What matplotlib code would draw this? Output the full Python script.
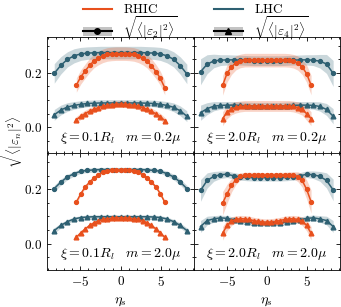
import numpy as np
import matplotlib
matplotlib.use('Agg')
import matplotlib.pyplot as plt
from matplotlib.lines import Line2D
from matplotlib.patches import Patch
from matplotlib.ticker import MultipleLocator, FuncFormatter

# eta grids (21 points each)
eta_rhic = np.linspace(-5.5, 5.5, 21)
eta_lhc = np.linspace(-8.25, 8.25, 21)

# --- xi = 0.1 R_l, m = 0.2 mu (top left)
tl_lhc_e2 = [0.198, 0.228, 0.250, 0.263, 0.270, 0.273, 0.274, 0.275, 0.275, 0.275, 0.275,
             0.275, 0.275, 0.275, 0.274, 0.273, 0.270, 0.263, 0.250, 0.227, 0.196]
tl_lhc_e2_err = [0.036, 0.032, 0.028, 0.026, 0.024, 0.023, 0.023, 0.023, 0.023, 0.023, 0.023,
                 0.023, 0.023, 0.023, 0.023, 0.023, 0.024, 0.026, 0.028, 0.032, 0.036]
tl_rhic_e2 = [0.155, 0.185, 0.207, 0.228, 0.244, 0.255, 0.263, 0.268, 0.270, 0.271, 0.271,
              0.271, 0.270, 0.268, 0.263, 0.255, 0.243, 0.226, 0.205, 0.180, 0.145]
tl_rhic_e2_err = [0.026, 0.026, 0.026, 0.026, 0.025, 0.025, 0.025, 0.025, 0.025, 0.025, 0.025,
                  0.025, 0.025, 0.025, 0.025, 0.025, 0.025, 0.026, 0.026, 0.026, 0.026]
tl_lhc_e4 = [0.045, 0.063, 0.074, 0.080, 0.084, 0.087, 0.088, 0.089, 0.089, 0.089, 0.089,
             0.089, 0.089, 0.089, 0.088, 0.087, 0.084, 0.080, 0.073, 0.060, 0.040]
tl_lhc_e4_err = [0.020, 0.018, 0.016, 0.014, 0.013, 0.012, 0.012, 0.012, 0.012, 0.012, 0.012,
                 0.012, 0.012, 0.012, 0.012, 0.012, 0.013, 0.014, 0.016, 0.018, 0.020]
tl_rhic_e4 = [0.027, 0.040, 0.050, 0.059, 0.066, 0.072, 0.077, 0.080, 0.083, 0.084, 0.085,
              0.084, 0.083, 0.080, 0.077, 0.072, 0.066, 0.058, 0.049, 0.038, 0.024]
tl_rhic_e4_err = [0.012, 0.012, 0.012, 0.012, 0.012, 0.012, 0.012, 0.012, 0.012, 0.012, 0.012,
                  0.012, 0.012, 0.012, 0.012, 0.012, 0.012, 0.012, 0.012, 0.012, 0.012]

# --- xi = 2.0 R_l, m = 0.2 mu (top right)
tr_lhc_e2 = [0.204, 0.232, 0.244, 0.247, 0.248, 0.248, 0.247, 0.246, 0.245, 0.245, 0.245,
             0.245, 0.245, 0.246, 0.247, 0.248, 0.248, 0.247, 0.243, 0.233, 0.198]
tr_lhc_e2_err = [0.048, 0.035, 0.025, 0.020, 0.019, 0.018, 0.018, 0.018, 0.018, 0.018, 0.018,
                 0.018, 0.018, 0.018, 0.018, 0.018, 0.019, 0.020, 0.025, 0.035, 0.048]
tr_rhic_e2 = [0.154, 0.198, 0.222, 0.237, 0.244, 0.247, 0.247, 0.247, 0.247, 0.247, 0.247,
              0.247, 0.247, 0.247, 0.247, 0.246, 0.243, 0.236, 0.222, 0.197, 0.155]
tr_rhic_e2_err = [0.036, 0.032, 0.028, 0.026, 0.025, 0.025, 0.025, 0.025, 0.025, 0.025, 0.025,
                  0.025, 0.025, 0.025, 0.025, 0.025, 0.025, 0.026, 0.028, 0.032, 0.036]
tr_lhc_e4 = [0.053, 0.068, 0.077, 0.080, 0.081, 0.081, 0.080, 0.079, 0.078, 0.078, 0.078,
             0.078, 0.078, 0.079, 0.080, 0.081, 0.081, 0.080, 0.076, 0.065, 0.040]
tr_lhc_e4_err = [0.028, 0.022, 0.017, 0.014, 0.013, 0.013, 0.013, 0.013, 0.013, 0.013, 0.013,
                 0.013, 0.013, 0.013, 0.013, 0.013, 0.013, 0.014, 0.017, 0.022, 0.028]
tr_rhic_e4 = [0.031, 0.055, 0.067, 0.073, 0.076, 0.078, 0.078, 0.078, 0.078, 0.078, 0.078,
              0.078, 0.078, 0.078, 0.078, 0.078, 0.076, 0.072, 0.066, 0.049, 0.031]
tr_rhic_e4_err = [0.026, 0.024, 0.022, 0.021, 0.020, 0.020, 0.020, 0.020, 0.020, 0.020, 0.020,
                  0.020, 0.020, 0.020, 0.020, 0.020, 0.020, 0.021, 0.022, 0.024, 0.026]

# --- xi = 0.1 R_l, m = 2.0 mu (bottom left)
bl_lhc_e2 = [0.203, 0.227, 0.246, 0.258, 0.267, 0.270, 0.272, 0.273, 0.273, 0.273, 0.273,
             0.273, 0.273, 0.273, 0.272, 0.270, 0.267, 0.258, 0.246, 0.227, 0.203]
bl_lhc_e2_err = [0.012, 0.011, 0.010, 0.009, 0.008, 0.008, 0.008, 0.008, 0.008, 0.008, 0.008,
                 0.008, 0.008, 0.008, 0.008, 0.008, 0.008, 0.009, 0.010, 0.011, 0.012]
bl_rhic_e2 = [0.153, 0.184, 0.209, 0.227, 0.242, 0.254, 0.264, 0.269, 0.271, 0.272, 0.272,
              0.272, 0.271, 0.269, 0.264, 0.254, 0.242, 0.227, 0.209, 0.184, 0.153]
bl_rhic_e2_err = [0.007, 0.007, 0.006, 0.006, 0.006, 0.006, 0.006, 0.006, 0.006, 0.006, 0.006,
                  0.006, 0.006, 0.006, 0.006, 0.006, 0.006, 0.006, 0.006, 0.007, 0.007]
bl_lhc_e4 = [0.048, 0.067, 0.081, 0.091, 0.096, 0.098, 0.099, 0.099, 0.099, 0.099, 0.099,
             0.099, 0.099, 0.099, 0.099, 0.098, 0.096, 0.091, 0.081, 0.067, 0.048]
bl_lhc_e4_err = [0.010, 0.009, 0.008, 0.007, 0.007, 0.007, 0.007, 0.007, 0.007, 0.007, 0.007,
                 0.007, 0.007, 0.007, 0.007, 0.007, 0.007, 0.007, 0.008, 0.009, 0.010]
bl_rhic_e4 = [0.023, 0.040, 0.054, 0.067, 0.077, 0.084, 0.089, 0.091, 0.094, 0.095, 0.095,
              0.095, 0.094, 0.091, 0.089, 0.084, 0.077, 0.067, 0.054, 0.040, 0.023]
bl_rhic_e4_err = [0.005, 0.005, 0.005, 0.005, 0.005, 0.005, 0.005, 0.005, 0.005, 0.005, 0.005,
                  0.005, 0.005, 0.005, 0.005, 0.005, 0.005, 0.005, 0.005, 0.005, 0.005]

# --- xi = 2.0 R_l, m = 2.0 mu (bottom right)
br_lhc_e2 = [0.196, 0.233, 0.248, 0.254, 0.256, 0.250, 0.246, 0.244, 0.243, 0.243, 0.243,
             0.243, 0.243, 0.244, 0.246, 0.250, 0.256, 0.254, 0.248, 0.233, 0.198]
br_lhc_e2_err = [0.040, 0.028, 0.018, 0.014, 0.012, 0.012, 0.012, 0.012, 0.012, 0.012, 0.012,
                 0.012, 0.012, 0.012, 0.012, 0.012, 0.012, 0.014, 0.018, 0.028, 0.040]
br_rhic_e2 = [0.149, 0.184, 0.215, 0.236, 0.248, 0.252, 0.253, 0.253, 0.253, 0.252, 0.252,
              0.252, 0.252, 0.253, 0.253, 0.253, 0.252, 0.247, 0.233, 0.200, 0.155]
br_rhic_e2_err = [0.043, 0.035, 0.025, 0.018, 0.013, 0.011, 0.010, 0.010, 0.010, 0.010, 0.010,
                  0.010, 0.010, 0.010, 0.010, 0.011, 0.013, 0.018, 0.025, 0.035, 0.043]
br_lhc_e4 = [0.063, 0.085, 0.091, 0.095, 0.093, 0.088, 0.083, 0.079, 0.076, 0.075, 0.075,
             0.075, 0.076, 0.079, 0.083, 0.088, 0.093, 0.095, 0.091, 0.085, 0.063]
br_lhc_e4_err = [0.022, 0.016, 0.012, 0.010, 0.010, 0.010, 0.010, 0.010, 0.010, 0.010, 0.010,
                 0.010, 0.010, 0.010, 0.010, 0.010, 0.010, 0.010, 0.012, 0.016, 0.022]
br_rhic_e4 = [0.038, 0.067, 0.083, 0.089, 0.092, 0.091, 0.089, 0.085, 0.082, 0.080, 0.079,
              0.080, 0.082, 0.085, 0.089, 0.091, 0.092, 0.089, 0.083, 0.067, 0.038]
br_rhic_e4_err = [0.025, 0.020, 0.016, 0.013, 0.012, 0.012, 0.012, 0.012, 0.012, 0.012, 0.012,
                  0.012, 0.012, 0.012, 0.012, 0.012, 0.012, 0.013, 0.016, 0.020, 0.025]

panel_text = [r'$\xi = 0.1R_l \quad m = 0.2\mu$', r'$\xi = 2.0R_l \quad m = 0.2\mu$',
              r'$\xi = 0.1R_l \quad m = 2.0\mu$', r'$\xi = 2.0R_l \quad m = 2.0\mu$']

c_rhic = '#e8501d'
c_lhc = '#2e6072'

plt.rcParams['mathtext.fontset'] = 'cm'
plt.rcParams['font.family'] = 'serif'
plt.rcParams['font.serif'] = ['DejaVu Serif']
plt.rcParams['font.size'] = 9
plt.rcParams['axes.linewidth'] = 0.6

fig, axes = plt.subplots(2, 2, figsize=(3.41, 3.07), dpi=100, sharex=True, sharey=True)
fig.subplots_adjust(left=0.139, right=0.997, top=0.880, bottom=0.121, hspace=0, wspace=0)

panels = [
    (tl_lhc_e2, tl_lhc_e2_err, tl_rhic_e2, tl_rhic_e2_err, tl_lhc_e4, tl_lhc_e4_err, tl_rhic_e4, tl_rhic_e4_err),
    (tr_lhc_e2, tr_lhc_e2_err, tr_rhic_e2, tr_rhic_e2_err, tr_lhc_e4, tr_lhc_e4_err, tr_rhic_e4, tr_rhic_e4_err),
    (bl_lhc_e2, bl_lhc_e2_err, bl_rhic_e2, bl_rhic_e2_err, bl_lhc_e4, bl_lhc_e4_err, bl_rhic_e4, bl_rhic_e4_err),
    (br_lhc_e2, br_lhc_e2_err, br_rhic_e2, br_rhic_e2_err, br_lhc_e4, br_lhc_e4_err, br_rhic_e4, br_rhic_e4_err),
]


def draw(ax, eta, vals, err, color, marker, ms):
    vals = np.asarray(vals)
    err = np.asarray(err)
    ax.fill_between(eta, vals - err, vals + err, color=color, alpha=0.25, lw=0)
    ax.plot(eta, vals, color=color, lw=1.1, marker=marker, ms=ms)


for ax, data, txt in zip(axes.flat, panels, panel_text):
    le2, le2e, re2, re2e, le4, le4e, re4, re4e = data
    draw(ax, eta_lhc, le2, le2e, c_lhc, 'o', 2.8)
    draw(ax, eta_rhic, re2, re2e, c_rhic, 'o', 2.8)
    draw(ax, eta_lhc, le4, le4e, c_lhc, '^', 3.4)
    draw(ax, eta_rhic, re4, re4e, c_rhic, '^', 3.4)
    ax.text(0.5, 0.135, txt, transform=ax.transAxes, ha='center', va='center', fontsize=10)
    ax.xaxis.set_major_locator(MultipleLocator(5))
    ax.xaxis.set_minor_locator(MultipleLocator(1))
    ax.yaxis.set_major_locator(MultipleLocator(0.2))
    ax.yaxis.set_minor_locator(MultipleLocator(0.05))
    ax.xaxis.set_major_formatter(FuncFormatter(lambda v, p: f'${v:g}$'))
    ax.yaxis.set_major_formatter(FuncFormatter(lambda v, p: f'${v:.1f}$'))
    ax.tick_params(which='both', direction='in', top=True, right=True, width=0.6, labelsize=9.5)
    ax.tick_params(which='major', length=3.2)
    ax.tick_params(which='minor', length=1.6)

axes[0, 0].set_xlim(-9.1, 9.1)
axes[0, 0].set_ylim(-0.097, 0.333)

for ax in axes[1]:
    ax.set_xlabel(r'$\eta_s$', fontsize=10)

fig.text(0.035, 0.545, r'$\sqrt{\langle|\varepsilon_n|^2\rangle}$', rotation=90,
         ha='center', va='center', fontsize=9.5)

# legend: one entry per slot so the two rows sit close together
band = '#c4c4c4'
entries = [
    (Line2D([], [], color=c_rhic, lw=1.5), r'$\mathrm{RHIC}$', 0.243, 0.968),
    ((Patch(facecolor=band, edgecolor='none'), Line2D([], [], color='k', lw=1.5, marker='o', ms=4)),
     r'$\sqrt{\langle|\varepsilon_2|^2\rangle}$', 0.243, 0.910),
    (Line2D([], [], color=c_lhc, lw=1.5), r'$\mathrm{LHC}$', 0.627, 0.968),
    ((Patch(facecolor=band, edgecolor='none'), Line2D([], [], color='k', lw=1.5, marker='^', ms=5)),
     r'$\sqrt{\langle|\varepsilon_4|^2\rangle}$', 0.627, 0.910),
]
for h, lab, x, y in entries:
    fig.legend([h], [lab], loc='center left', bbox_to_anchor=(x, y), frameon=False,
               fontsize=9.5, handlelength=2.2, handletextpad=0.85,
               borderpad=0, borderaxespad=0)

fig.savefig('out.png', dpi=100)
